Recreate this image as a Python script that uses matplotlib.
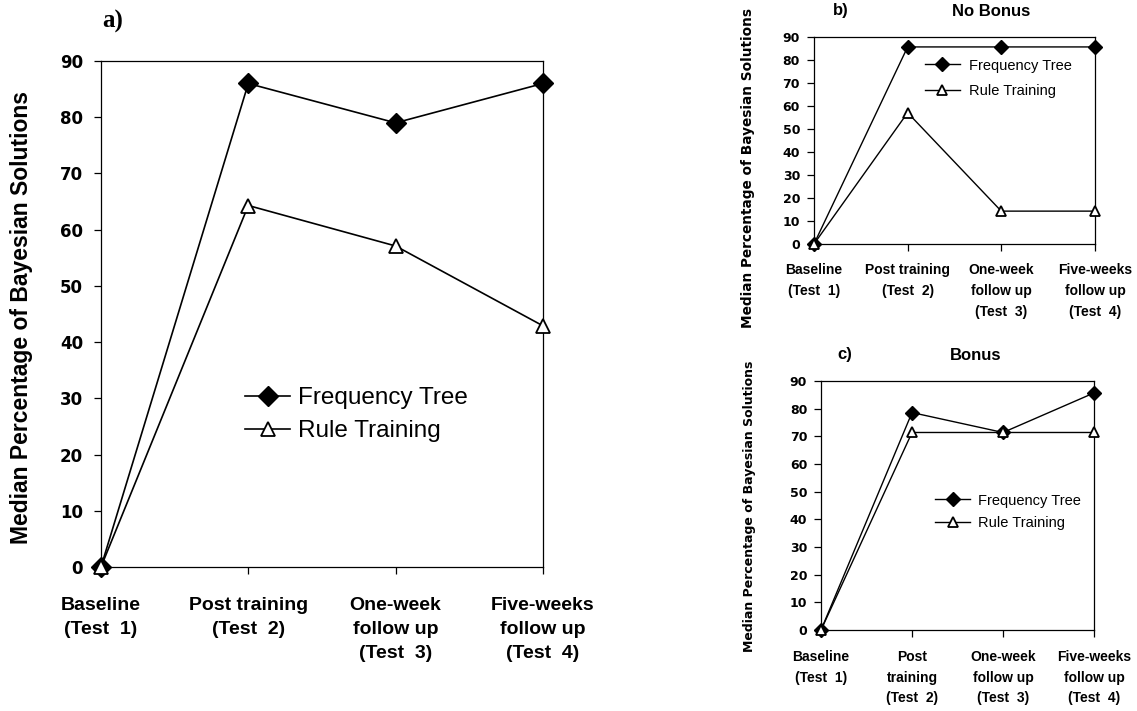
import matplotlib
matplotlib.use('Agg')
import matplotlib.pyplot as plt

plt.rcParams['font.family'] = ['Liberation Sans', 'DejaVu Sans']

# Data (median % of Bayesian solutions)
tests = [0, 1, 2, 3]
labels_a = ['Baseline\n(Test  1)', 'Post training\n(Test  2)',
            'One-week\nfollow up\n(Test  3)', 'Five-weeks\nfollow up\n(Test  4)']
labels_c = ['Baseline\n(Test  1)', 'Post\ntraining\n(Test  2)',
            'One-week\nfollow up\n(Test  3)', 'Five-weeks\nfollow up\n(Test  4)']
yticks = [0, 10, 20, 30, 40, 50, 60, 70, 80, 90]
ylabel = 'Median Percentage of Bayesian Solutions'

tree_all = [0, 86, 79, 86]
rule_all = [0, 64.3, 57.1, 42.9]
tree_nobonus = [0, 85.7, 85.7, 85.7]
rule_nobonus = [0, 57.1, 14.3, 14.3]
tree_bonus = [0, 78.6, 71.4, 85.7]
rule_bonus = [0, 71.4, 71.4, 71.4]


def panel(ax, tree, rule, xlabels, tick_fs, xlab_fs, lsp, leg_fs, ms_d, ms_t,
          lw, leg_pos, leg_hl, leg_tp, leg_ls, xpad, ypad):
    ax.plot(tests, tree, color='black', lw=lw, marker='D', ms=ms_d,
            mfc='black', mec='black', label='Frequency Tree', clip_on=False,
            zorder=3)
    ax.plot(tests, rule, color='black', lw=lw, marker='^', ms=ms_t,
            mfc='white', mec='black', mew=1.3, label='Rule Training',
            clip_on=False, zorder=3)
    ax.set_xlim(0, 3)
    ax.set_ylim(0, 90)
    ax.set_yticks(yticks)
    ax.set_xticks(tests)
    ax.set_xticklabels(xlabels, fontsize=xlab_fs, fontweight='bold',
                       linespacing=lsp)
    ax.set_yticklabels([str(v) for v in yticks], fontsize=tick_fs,
                       fontweight='bold', family='DejaVu Sans')
    ax.tick_params(axis='x', direction='out', length=5, width=0.9, pad=xpad)
    ax.tick_params(axis='y', direction='out', length=5, width=0.9, pad=ypad)
    for s in ax.spines.values():
        s.set_linewidth(0.9)
    ax.legend(loc='upper left', bbox_to_anchor=leg_pos, frameon=False,
              fontsize=leg_fs, handlelength=leg_hl, handletextpad=leg_tp,
              labelspacing=leg_ls, borderaxespad=0, borderpad=0)


fig = plt.figure(figsize=(11.37, 7.11), dpi=100)

# panel a: all participants
ax_a = fig.add_axes([0.0888, 0.2025, 0.3887, 0.7117])
panel(ax_a, tree_all, rule_all, labels_a, tick_fs=12, xlab_fs=14, lsp=1.55,
      leg_fs=17.5, ms_d=10, ms_t=9.5, lw=1.2, leg_pos=(0.326, 0.355),
      leg_hl=1.85, leg_tp=0.33, leg_ls=0.45, xpad=16.5, ypad=8)
fig.text(22 / 1137, 1 - 318 / 711, ylabel, rotation=90, fontsize=16.5,
         fontweight='bold', ha='center', va='center')
fig.text(113 / 1137, 1 - 21 / 711, 'a)', fontsize=18, fontweight='bold',
         family=['Liberation Serif', 'DejaVu Serif'], ha='center',
         va='center')

# panel b: no bonus
ax_b = fig.add_axes([0.7159, 0.6568, 0.2471, 0.2911])
panel(ax_b, tree_nobonus, rule_nobonus, labels_a, tick_fs=9, xlab_fs=10,
      lsp=1.6, leg_fs=10.5, ms_d=7, ms_t=7, lw=1.0,
      leg_pos=(0.395, 0.896), leg_hl=2.4, leg_tp=0.6, leg_ls=0.8,
      xpad=9, ypad=5)
fig.text(748 / 1137, 1 - 168 / 711, ylabel, rotation=90, fontsize=9.8,
         fontweight='bold', family='DejaVu Sans', ha='center', va='center')
fig.text(841 / 1137, 1 - 11 / 711, 'b)', fontsize=12, fontweight='bold',
         ha='center', va='center')
fig.text(991 / 1137, 1 - 11 / 711, 'No Bonus', fontsize=12,
         fontweight='bold', ha='center', va='center')

# panel c: bonus
ax_c = fig.add_axes([0.7221, 0.1139, 0.2401, 0.3502])
panel(ax_c, tree_bonus, rule_bonus, labels_c, tick_fs=9, xlab_fs=10,
      lsp=1.6, leg_fs=10.5, ms_d=7, ms_t=7, lw=1.0,
      leg_pos=(0.418, 0.548), leg_hl=2.4, leg_tp=0.55, leg_ls=0.6,
      xpad=9.5, ypad=5)
fig.text(750 / 1137, 1 - 506 / 711, ylabel, rotation=90, fontsize=9,
         fontweight='bold', family='DejaVu Sans', ha='center', va='center')
fig.text(845 / 1137, 1 - 355 / 711, 'c)', fontsize=12, fontweight='bold',
         ha='center', va='center')
fig.text(976 / 1137, 1 - 355 / 711, 'Bonus', fontsize=12,
         fontweight='bold', ha='center', va='center')

fig.savefig('out.png', dpi=100)
